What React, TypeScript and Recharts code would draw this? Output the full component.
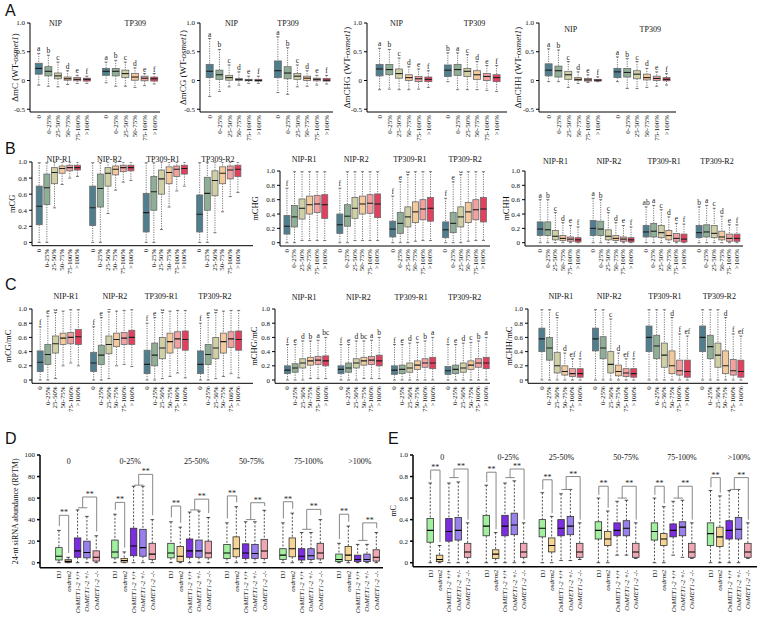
import React from 'react';
import { ComposedChart, Bar, XAxis, YAxis, ReferenceLine, ReferenceDot } from 'recharts';

const SERIF = '"Liberation Serif","Times New Roman",serif';
const SANS = '"Liberation Sans",Arial,sans-serif';

type Stat = [number, number, number, number, number]; // min, q1, median, q3, max

// ---------- categories ----------
const BIN_LABELS = ['0', '0-25%', '25-50%', '50-75%', '75-100%', '>100%'];
const BIN_COLORS = ['#4f7f8e', '#8fae96', '#cfd0a6', '#f4c99c', '#f2a1a1', '#e3405f'];
const GENO_LABELS = ['DJ', 'osdrm2', 'OsMET1-2 +/+', 'OsMET1-2 +/-', 'OsMET1-2 -/-'];
const GENO_COLORS = ['#a3efa0', '#f6d594', '#7c2de0', '#9a80ec', '#f0a7b4'];
const A_GROUPS = ['NIP', 'TP309'];
const BC_GROUPS = ['NIP-R1', 'NIP-R2', 'TP309-R1', 'TP309-R2'];
const DE_GROUPS = ['0', '0-25%', '25-50%', '50-75%', '75-100%', '>100%'];

// ---------- Panel A ----------
const aMC_NIP: Stat[] = [[-0.08, 0.11, 0.21, 0.3, 0.47], [-0.1, 0.08, 0.16, 0.24, 0.44], [-0.11, 0.03, 0.08, 0.13, 0.32], [-0.07, 0.005, 0.03, 0.06, 0.17], [-0.05, -0.005, 0.02, 0.05, 0.09], [-0.05, -0.01, 0.02, 0.04, 0.075]];
const aMC_TP: Stat[] = [[-0.04, 0.09, 0.16, 0.21, 0.32], [-0.1, 0.08, 0.16, 0.21, 0.35], [-0.1, 0.05, 0.12, 0.18, 0.32], [-0.12, 0.005, 0.06, 0.12, 0.22], [-0.09, -0.005, 0.04, 0.075, 0.12], [-0.06, -0.01, 0.03, 0.06, 0.12]];
const aMCG_NIP: Stat[] = [[-0.28, 0.05, 0.16, 0.28, 0.73], [-0.19, 0.02, 0.1, 0.18, 0.54], [-0.11, 0.005, 0.05, 0.09, 0.27], [-0.08, 0, 0.02, 0.03, 0.15], [-0.05, -0.005, 0.005, 0.02, 0.075], [-0.05, -0.01, 0, 0.02, 0.075]];
const aMCG_TP: Stat[] = [[-0.21, 0.05, 0.17, 0.34, 0.76], [-0.24, 0.03, 0.13, 0.24, 0.57], [-0.11, 0.02, 0.075, 0.12, 0.27], [-0.1, 0, 0.04, 0.075, 0.17], [-0.08, -0.005, 0.02, 0.04, 0.09], [-0.06, -0.01, 0.005, 0.035, 0.09]];
const aMCHG_NIP: Stat[] = [[-0.16, 0.08, 0.2, 0.28, 0.56], [-0.15, 0.1, 0.19, 0.28, 0.54], [-0.16, 0.04, 0.12, 0.2, 0.39], [-0.16, 0, 0.05, 0.1, 0.24], [-0.15, -0.02, 0.03, 0.07, 0.2], [-0.12, -0.02, 0.02, 0.06, 0.17]];
const aMCHG_TP: Stat[] = [[-0.02, 0.07, 0.18, 0.27, 0.48], [-0.16, 0.09, 0.19, 0.28, 0.48], [-0.16, 0.07, 0.16, 0.21, 0.45], [-0.16, 0.02, 0.1, 0.17, 0.33], [-0.17, 0, 0.07, 0.12, 0.26], [-0.19, -0.02, 0.05, 0.1, 0.26]];
const aMCHH_NIP: Stat[] = [[-0.02, 0.08, 0.18, 0.29, 0.55], [-0.02, 0.06, 0.17, 0.25, 0.53], [-0.12, 0.02, 0.1, 0.16, 0.33], [-0.05, 0, 0.02, 0.05, 0.15], [-0.035, -0.01, 0.01, 0.035, 0.1], [-0.02, -0.01, 0.005, 0.02, 0.065]];
const aMCHH_TP: Stat[] = [[-0.02, 0.05, 0.15, 0.21, 0.41], [-0.14, 0.06, 0.14, 0.21, 0.38], [-0.14, 0.03, 0.11, 0.17, 0.33], [-0.12, 0.01, 0.05, 0.11, 0.21], [-0.1, 0, 0.035, 0.075, 0.15], [-0.08, -0.005, 0.02, 0.05, 0.12]];
const L_ABCDEF = ['a', 'b', 'c', 'd', 'e', 'f'];
const L_BACDEF = ['b', 'a', 'c', 'd', 'e', 'f'];

// ---------- Panel B ----------
const bCG: Stat[][] = [
  [[0, 0.22, 0.45, 0.7, 0.99], [0, 0.47, 0.68, 0.85, 0.99], [0.43, 0.73, 0.87, 0.93, 1], [0.72, 0.86, 0.92, 0.95, 1], [0.8, 0.89, 0.93, 0.96, 1], [0.82, 0.9, 0.93, 0.96, 1]],
  [[0, 0.21, 0.43, 0.7, 0.99], [0, 0.44, 0.67, 0.85, 0.99], [0.36, 0.7, 0.86, 0.93, 1], [0.65, 0.84, 0.91, 0.95, 1], [0.75, 0.88, 0.93, 0.96, 1], [0.77, 0.89, 0.93, 0.96, 1]],
  [[0, 0.13, 0.37, 0.61, 0.99], [0, 0.4, 0.63, 0.82, 0.99], [0.16, 0.6, 0.79, 0.9, 1], [0.44, 0.73, 0.87, 0.94, 1], [0.64, 0.82, 0.91, 0.95, 1], [0.7, 0.85, 0.92, 0.96, 1]],
  [[0, 0.13, 0.35, 0.59, 0.99], [0, 0.4, 0.61, 0.81, 0.99], [0.12, 0.58, 0.77, 0.89, 1], [0.38, 0.73, 0.86, 0.94, 1], [0.57, 0.79, 0.9, 0.95, 1], [0.62, 0.82, 0.91, 0.96, 1]],
];
const bCG_L = [['f', 'e', 'd', 'b', 'a', 'c'], ['f', 'e', 'd', 'b', 'a', 'c'], ['f', 'e', 'd', 'c', 'ab', 'a'], ['f', 'e', 'd', 'c', 'a', 'ab']];
const bCHG: Stat[][] = [
  [[0, 0.12, 0.23, 0.38, 0.76], [0, 0.22, 0.36, 0.52, 0.99], [0.03, 0.33, 0.48, 0.61, 0.99], [0.03, 0.4, 0.53, 0.65, 0.99], [0.03, 0.42, 0.54, 0.66, 0.99], [0.03, 0.34, 0.53, 0.67, 0.99]],
  [[0, 0.13, 0.25, 0.4, 0.76], [0, 0.23, 0.37, 0.53, 0.99], [0.03, 0.34, 0.48, 0.63, 0.99], [0.03, 0.4, 0.54, 0.65, 0.99], [0.03, 0.41, 0.55, 0.67, 0.99], [0.03, 0.35, 0.54, 0.68, 0.99]],
  [[0, 0.08, 0.19, 0.3, 0.65], [0, 0.13, 0.27, 0.42, 0.85], [0, 0.22, 0.36, 0.5, 0.95], [0.02, 0.28, 0.43, 0.57, 0.99], [0.03, 0.32, 0.47, 0.6, 0.99], [0.03, 0.3, 0.48, 0.63, 0.99]],
  [[0, 0.07, 0.18, 0.29, 0.62], [0, 0.14, 0.27, 0.42, 0.85], [0, 0.22, 0.36, 0.5, 0.95], [0.02, 0.28, 0.43, 0.56, 0.99], [0.03, 0.32, 0.46, 0.6, 0.99], [0.03, 0.29, 0.47, 0.63, 0.99]],
];
const bCHG_L = [['f', 'e', 'd', 'b', 'a', 'c'], ['f', 'e', 'd', 'b', 'a', 'c'], ['f', 'e', 'd', 'c', 'a', 'ab'], ['f', 'e', 'd', 'c', 'a', 'ab']];
const bCHH: Stat[][] = [
  [[0, 0.1, 0.19, 0.29, 0.6], [0, 0.1, 0.18, 0.29, 0.6], [0, 0.04, 0.09, 0.17, 0.42], [0, 0.03, 0.06, 0.1, 0.28], [0, 0.02, 0.05, 0.08, 0.24], [0, 0.01, 0.04, 0.07, 0.22]],
  [[0, 0.1, 0.2, 0.31, 0.62], [0, 0.1, 0.19, 0.3, 0.6], [0, 0.04, 0.09, 0.18, 0.42], [0, 0.03, 0.06, 0.1, 0.28], [0, 0.02, 0.05, 0.08, 0.24], [0, 0.01, 0.04, 0.07, 0.22]],
  [[0, 0.08, 0.15, 0.24, 0.5], [0, 0.08, 0.16, 0.27, 0.52], [0, 0.07, 0.14, 0.24, 0.46], [0, 0.04, 0.1, 0.17, 0.36], [0, 0.02, 0.06, 0.13, 0.27], [0, 0.01, 0.05, 0.12, 0.26]],
  [[0, 0.07, 0.14, 0.24, 0.5], [0, 0.08, 0.15, 0.25, 0.52], [0, 0.07, 0.13, 0.24, 0.48], [0, 0.04, 0.08, 0.16, 0.37], [0, 0.02, 0.06, 0.12, 0.25], [0, 0.02, 0.06, 0.12, 0.25]],
];
const bCHH_L = [L_ABCDEF, L_ABCDEF, ['ab', 'a', 'c', 'd', 'e', 'f'], L_BACDEF];

// ---------- Panel C ----------
const cCG: Stat[][] = [
  [[0, 0.12, 0.25, 0.41, 0.75], [0, 0.22, 0.36, 0.5, 0.9], [0.02, 0.38, 0.51, 0.62, 0.95], [0.2, 0.5, 0.59, 0.66, 0.97], [0.24, 0.51, 0.6, 0.67, 0.99], [0.2, 0.5, 0.61, 0.71, 0.99]],
  [[0, 0.12, 0.24, 0.39, 0.75], [0, 0.22, 0.35, 0.49, 0.88], [0.02, 0.37, 0.5, 0.62, 0.96], [0.2, 0.47, 0.57, 0.66, 0.97], [0.22, 0.5, 0.59, 0.67, 0.98], [0.19, 0.5, 0.6, 0.7, 0.99]],
  [[0, 0.09, 0.22, 0.42, 0.8], [0, 0.2, 0.35, 0.52, 0.88], [0.02, 0.3, 0.45, 0.6, 0.95], [0.05, 0.38, 0.54, 0.66, 0.97], [0.1, 0.45, 0.58, 0.68, 0.98], [0.03, 0.42, 0.57, 0.69, 0.98]],
  [[0, 0.09, 0.22, 0.41, 0.8], [0, 0.22, 0.36, 0.5, 0.88], [0.02, 0.3, 0.45, 0.6, 0.95], [0.05, 0.38, 0.54, 0.66, 0.97], [0.09, 0.46, 0.58, 0.68, 0.98], [0.03, 0.42, 0.57, 0.69, 0.98]],
];
const cCG_L = [['f', 'e', 'd', 'c', 'b', 'a'], ['f', 'e', 'd', 'c', 'ab', 'a'], ['f', 'e', 'd', 'c', 'a', 'b'], ['f', 'e', 'd', 'c', 'a', 'b']];
const cCHG: Stat[][] = [
  [[0, 0.09, 0.14, 0.2, 0.5], [0, 0.11, 0.17, 0.23, 0.5], [0, 0.17, 0.24, 0.3, 0.55], [0.02, 0.21, 0.27, 0.32, 0.55], [0.02, 0.22, 0.28, 0.33, 0.56], [0.02, 0.2, 0.27, 0.34, 0.6]],
  [[0, 0.09, 0.15, 0.2, 0.5], [0, 0.11, 0.17, 0.24, 0.5], [0, 0.17, 0.24, 0.3, 0.55], [0.02, 0.21, 0.27, 0.32, 0.55], [0.02, 0.22, 0.28, 0.33, 0.56], [0.02, 0.2, 0.27, 0.35, 0.6]],
  [[0, 0.08, 0.14, 0.2, 0.5], [0, 0.09, 0.15, 0.21, 0.5], [0, 0.11, 0.17, 0.24, 0.52], [0, 0.15, 0.21, 0.27, 0.53], [0, 0.18, 0.24, 0.3, 0.55], [0, 0.16, 0.24, 0.32, 0.6]],
  [[0, 0.08, 0.13, 0.19, 0.5], [0, 0.09, 0.15, 0.21, 0.5], [0, 0.11, 0.17, 0.24, 0.52], [0, 0.15, 0.21, 0.27, 0.53], [0, 0.18, 0.24, 0.3, 0.55], [0, 0.16, 0.24, 0.32, 0.6]],
];
const cCHG_L = [['f', 'e', 'd', 'b', 'a', 'bc'], ['f', 'e', 'd', 'bc', 'a', 'b'], ['f', 'e', 'd', 'c', 'b', 'a'], ['f', 'e', 'd', 'c', 'b', 'a']];
const cCHH: Stat[][] = [
  [[0, 0.4, 0.58, 0.73, 0.99], [0, 0.28, 0.45, 0.6, 0.99], [0, 0.1, 0.2, 0.39, 0.88], [0, 0.07, 0.12, 0.2, 0.38], [0, 0.05, 0.09, 0.16, 0.3], [0, 0.04, 0.09, 0.16, 0.3]],
  [[0, 0.41, 0.58, 0.73, 0.99], [0, 0.3, 0.45, 0.61, 0.99], [0, 0.1, 0.22, 0.4, 0.86], [0, 0.06, 0.12, 0.21, 0.38], [0, 0.05, 0.1, 0.16, 0.3], [0, 0.04, 0.09, 0.16, 0.3]],
  [[0, 0.4, 0.6, 0.76, 0.99], [0, 0.3, 0.48, 0.63, 0.99], [0, 0.18, 0.35, 0.52, 0.99], [0, 0.09, 0.2, 0.41, 0.88], [0, 0.07, 0.13, 0.28, 0.65], [0, 0.04, 0.12, 0.28, 0.62]],
  [[0, 0.4, 0.6, 0.76, 0.99], [0, 0.3, 0.47, 0.63, 0.99], [0, 0.18, 0.35, 0.52, 0.99], [0, 0.09, 0.2, 0.41, 0.88], [0, 0.07, 0.13, 0.29, 0.65], [0, 0.04, 0.12, 0.28, 0.62]],
];
const cCHH_L = [['a', 'b', 'c', 'd', 'ef', 'f'], ['a', 'b', 'c', 'd', 'ef', 'f'], ['a', 'b', 'c', 'd', 'f', 'ef'], ['a', 'b', 'c', 'd', 'f', 'ef']];

// ---------- Panel D (24-nt siRNA, RPTM) ----------
const dSiRNA: Stat[][] = [
  [[0, 2.5, 6, 14, 30], [0, 0.3, 1.2, 2.8, 5], [0, 5, 11, 23, 49], [0, 4.5, 9.5, 20, 43], [0, 1.5, 5, 11, 25]],
  [[0, 4.5, 10, 21, 45], [0, 0.5, 2, 4, 10], [0, 6.5, 15.5, 32, 71], [0, 6, 14, 31, 71], [0, 3, 8, 18, 40]],
  [[0, 4.5, 9, 18, 38], [0, 1, 6, 15, 33], [0, 5, 11, 22, 47], [0, 5, 11, 21, 48], [0, 4.5, 9, 20, 42]],
  [[0, 4, 9, 17, 37], [0, 5.5, 13, 24, 52], [0, 4, 9, 17.5, 38], [0, 4, 8.5, 17, 38], [0, 4, 10.8, 21.7, 48.6]],
  [[0, 3, 7, 13, 37], [0, 5.5, 13, 23, 46], [0, 2.5, 6, 13, 28], [0, 3, 6.5, 13, 28], [0, 3.5, 9, 18, 40]],
  [[0, 1, 3, 8, 18], [0, 2, 7, 15, 34], [0, 1, 3, 7, 17], [0, 1, 3, 8, 17], [0, 1.5, 5, 12, 28]],
];
const dBracketPair = [44, 56, 52.6, 62, 56.6, 45];
const dBracketJoin = [51, 72, 49, 40, 31, 20.7];
const dBracketTop = [61, 82, 59, 55.7, 49.5, 37];

// ---------- Panel E (mC) ----------
const eMC: Stat[][] = [
  [[0, 0.19, 0.3, 0.41, 0.74], [0, 0.01, 0.03, 0.07, 0.16], [0, 0.2, 0.29, 0.41, 0.74], [0, 0.21, 0.3, 0.42, 0.75], [0, 0.05, 0.1, 0.18, 0.37]],
  [[0, 0.25, 0.34, 0.44, 0.72], [0, 0.04, 0.08, 0.12, 0.28], [0, 0.25, 0.34, 0.44, 0.74], [0, 0.26, 0.35, 0.46, 0.76], [0, 0.05, 0.1, 0.18, 0.37]],
  [[0, 0.24, 0.32, 0.4, 0.65], [0, 0.1, 0.16, 0.23, 0.43], [0.02, 0.25, 0.32, 0.4, 0.64], [0.02, 0.26, 0.34, 0.43, 0.68], [0.03, 0.05, 0.1, 0.18, 0.37]],
  [[0, 0.22, 0.3, 0.38, 0.6], [0, 0.16, 0.22, 0.29, 0.48], [0.07, 0.25, 0.3, 0.37, 0.57], [0.07, 0.25, 0.32, 0.39, 0.58], [0.04, 0.05, 0.1, 0.18, 0.37]],
  [[0, 0.21, 0.29, 0.37, 0.6], [0, 0.16, 0.22, 0.27, 0.52], [0.07, 0.24, 0.3, 0.36, 0.57], [0.05, 0.25, 0.33, 0.38, 0.58], [0.04, 0.05, 0.1, 0.18, 0.37]],
  [[0, 0.16, 0.27, 0.37, 0.67], [0, 0.15, 0.24, 0.33, 0.62], [0, 0.22, 0.3, 0.39, 0.67], [0, 0.22, 0.31, 0.42, 0.68], [0.04, 0.05, 0.1, 0.18, 0.37]],
];
const eBracketPair = [0.86, 0.84, 0.77, 0.71, 0.71, 0.79];
const eBracketJoin = [0.79, 0.79, 0.68, 0.6, 0.6, 0.68];
const eBracketTop = [0.87, 0.87, 0.8, 0.71, 0.71, 0.79];

// ---------- helpers ----------
type Row = { x: number; lo: number; q1: number; med: number; q3: number; hi: number; color: string; letter: string; label: string; kind: string };

function binRows(groups: Stat[][], letters: string[][]): Row[] {
  const rows: Row[] = [];
  groups.forEach((g, gi) =>
    g.forEach((s, i) =>
      rows.push({ x: gi * 7 + i, lo: s[0], q1: s[1], med: s[2], q3: s[3], hi: s[4], color: BIN_COLORS[i], letter: letters[gi][i], label: BIN_LABELS[i], kind: 'bin' })
    )
  );
  return rows;
}
function genoRows(groups: Stat[][]): Row[] {
  const rows: Row[] = [];
  groups.forEach((g, gi) =>
    g.forEach((s, i) =>
      rows.push({ x: gi * 6 + i, lo: s[0], q1: s[1], med: s[2], q3: s[3], hi: s[4], color: GENO_COLORS[i], letter: '', label: GENO_LABELS[i], kind: 'geno' })
    )
  );
  return rows;
}
type Seg = { a: [number, number]; b: [number, number]; star?: boolean };
function bracketSegs(groups: Stat[][], pair: number[], join: number[], topH: number[], gap: number): Seg[] {
  const segs: Seg[] = [];
  groups.forEach((g, gi) => {
    const s = gi * 6;
    segs.push({ a: [s, pair[gi]], b: [s + 1, pair[gi]], star: true });
    segs.push({ a: [s, pair[gi]], b: [s, g[0][4] + gap] });
    segs.push({ a: [s + 1, pair[gi]], b: [s + 1, g[1][4] + gap] });
    segs.push({ a: [s + 2, join[gi]], b: [s + 3, join[gi]] });
    segs.push({ a: [s + 2.5, join[gi]], b: [s + 2.5, topH[gi]] });
    segs.push({ a: [s + 2.5, topH[gi]], b: [s + 4, topH[gi]], star: true });
    segs.push({ a: [s + 4, topH[gi]], b: [s + 4, g[4][4] + gap] });
  });
  return segs;
}

function BoxShape(props: any) {
  const { x, y, width, height, payload } = props;
  if (!payload || x == null || y == null || !isFinite(y)) return null;
  const top = Math.min(y, y + height);
  const bot = Math.max(y, y + height);
  const span = payload.hi - payload.lo;
  const py = (v: number) => (span === 0 ? top : top + ((bot - top) * (payload.hi - v)) / span);
  const cx = x + width / 2;
  const geno = payload.kind === 'geno';
  const yMax = py(payload.hi), yQ3 = py(payload.q3), yMed = py(payload.med), yQ1 = py(payload.q1), yMin = py(payload.lo);
  const capW = geno ? 1.8 : 1.5;
  const ws = geno ? '#222' : '#555';
  const dash = geno ? '2 1.6' : '1.2 1.2';
  return (
    <g>
      <line x1={cx} x2={cx} y1={yMax} y2={yQ3} stroke={ws} strokeWidth={0.8} strokeDasharray={dash} />
      <line x1={cx} x2={cx} y1={yQ1} y2={yMin} stroke={ws} strokeWidth={0.8} strokeDasharray={dash} />
      <line x1={cx - capW} x2={cx + capW} y1={yMax} y2={yMax} stroke={ws} strokeWidth={0.8} />
      <line x1={cx - capW} x2={cx + capW} y1={yMin} y2={yMin} stroke={ws} strokeWidth={0.8} />
      <rect x={x} y={yQ3} width={width} height={Math.max(0.6, yQ1 - yQ3)} fill={payload.color} stroke={geno ? '#333' : '#6a6a6a'} strokeWidth={0.8} />
      <line x1={x} x2={x + width} y1={yMed} y2={yMed} stroke={geno ? '#000' : '#1d1d1d'} strokeWidth={1.1} />
      {payload.letter ? (
        <text x={cx} y={yMax - 2} textAnchor="middle" fontSize={7.5} fontFamily={SERIF} fill="#222">
          {payload.letter}
        </text>
      ) : null}
    </g>
  );
}

function labelContent(label: string) {
  if (label === 'DJ') return <tspan>DJ</tspan>;
  if (label.startsWith('OsMET1-2')) {
    return (
      <>
        <tspan fontStyle="italic">OsMET1-2</tspan>
        <tspan>{label.slice(8)}</tspan>
      </>
    );
  }
  if (label === 'osdrm2') return <tspan fontStyle="italic">osdrm2</tspan>;
  return <tspan>{label}</tspan>;
}

type PanelSpec = {
  rows: Row[];
  plot: [number, number, number, number];
  xDomain: [number, number];
  yDomain: [number, number];
  yTicks: number[];
  yFmt: (v: number) => string;
  yLabel: React.ReactNode;
  yLabelX: number;
  yLabelSize: number;
  titles: string[];
  titleX: number[];
  titleY: number;
  barSize: number;
  axisW: number;
  tickFont: number;
  segs?: Seg[];
};

function Panel(p: PanelSpec) {
  const YW = 45, MT = 25, MR = 6, XH = 70;
  const [pl, pr, pt, pb] = p.plot;
  const left = pl - YW;
  const top = pt - MT;
  const width = pr - pl + YW + MR;
  const height = pb - pt + MT + XH;
  const lx = p.yLabelX - left;
  const ly = (pt + pb) / 2 - top;
  const titleDy = p.titleY - pt;
  const labelMap = new Map<number, string>();
  p.rows.forEach((r) => labelMap.set(r.x, r.label));

  const BottomTick = (tp: any) => {
    const lab = labelMap.get(tp.payload.value) ?? '';
    const tx = tp.x;
    const tyy = tp.y + 1;
    return (
      <text x={tx} y={tyy} transform={`rotate(-90 ${tx} ${tyy})`} textAnchor="end" dominantBaseline="central" fontSize={p.tickFont} fontFamily={SERIF} fill="#111">
        {labelContent(lab)}
      </text>
    );
  };
  const YLabel = () => (
    <text x={lx} y={ly} transform={`rotate(-90 ${lx} ${ly})`} textAnchor="middle" dominantBaseline="central" fontSize={p.yLabelSize} fontFamily={SERIF} fill="#111">
      {p.yLabel}
    </text>
  );

  return (
    <div style={{ position: 'absolute', left, top, width, height }}>
      <ComposedChart width={width} height={height} data={p.rows} margin={{ top: MT, right: MR, bottom: 0, left: 0 }}>
        <XAxis
          dataKey="x"
          type="number"
          domain={p.xDomain}
          ticks={p.rows.map((r) => r.x)}
          interval={0}
          allowDataOverflow
          tickLine={false}
          tickSize={0}
          tickMargin={2}
          axisLine={{ stroke: '#000', strokeWidth: p.axisW }}
          height={XH}
          tick={BottomTick}
        />
        <YAxis
          type="number"
          domain={p.yDomain}
          ticks={p.yTicks}
          interval={0}
          allowDataOverflow
          width={YW}
          tickSize={3}
          tickLine={{ stroke: '#000', strokeWidth: p.axisW }}
          axisLine={{ stroke: '#000', strokeWidth: p.axisW }}
          tick={{ fontSize: 7, fontFamily: SERIF, fill: '#111' }}
          tickFormatter={p.yFmt}
          label={YLabel}
        />
        <Bar dataKey={(d: Row) => [d.lo, d.hi]} barSize={p.barSize} isAnimationActive={false} shape={(sp: any) => <BoxShape {...sp} />} />
        {(p.segs ?? []).map((s, i) => (
          <ReferenceLine
            key={i}
            segment={[{ x: s.a[0], y: s.a[1] }, { x: s.b[0], y: s.b[1] }]}
            stroke="#7a7a7a"
            strokeWidth={0.9}
            label={s.star ? { value: '**', position: 'top', fontSize: 8, fill: '#222', offset: 0, fontFamily: SERIF } : undefined}
          />
        ))}
        {p.titleX.map((tx, i) => (
          <ReferenceDot
            key={'t' + i}
            x={tx}
            y={p.yDomain[1]}
            r={0}
            fill="none"
            stroke="none"
            label={(lp: any) => {
              const vb = lp.viewBox || {};
              const cx = (vb.x ?? 0) + (vb.width ?? 0) / 2;
              const cy = (vb.y ?? 0) + (vb.height ?? 0) / 2;
              return (
                <text x={cx} y={cy + titleDy} textAnchor="middle" fontSize={8} fontFamily={SERIF} fill="#111">
                  {p.titles[i]}
                </text>
              );
            }}
          />
        ))}
      </ComposedChart>
    </div>
  );
}

const fmt1 = (v: number) => (v === 0 ? '0' : v.toFixed(1));
const fmtInt = (v: number) => String(v);
const TICKS_A = [-0.5, 0, 0.5, 1];
const TICKS_01 = [0, 0.2, 0.4, 0.6, 0.8, 1];
const TICKS_D = [0, 20, 40, 60, 80, 100];

const deltaLabel = (ctx: string) => (
  <>
    <tspan>{`ΔmC${ctx} (WT-`}</tspan>
    <tspan fontStyle="italic">osmet1</tspan>
    <tspan>)</tspan>
  </>
);

export default function App() {
  const aPanels: PanelSpec[] = [
    { rows: binRows([aMC_NIP, aMC_TP], [L_ABCDEF, L_ABCDEF]), plot: [30, 160, 23, 112], xDomain: [-0.94, 12.57], yLabelX: 15, yLabel: deltaLabel(''), titleX: [1.7, 10], titleY: 26 } as any,
    { rows: binRows([aMCG_NIP, aMCG_TP], [L_ABCDEF, L_ABCDEF]), plot: [200, 333, 23, 112], xDomain: [-1.03, 12.62], yLabelX: 183, yLabel: deltaLabel('G'), titleX: [2.2, 8], titleY: 26 } as any,
    { rows: binRows([aMCHG_NIP, aMCHG_TP], [L_ABCDEF, L_BACDEF]), plot: [367, 507, 23, 112], xDomain: [-1.33, 13.03], yLabelX: 347, yLabel: deltaLabel('HG'), titleX: [1.7, 9.7], titleY: 26 } as any,
    { rows: binRows([aMCHH_NIP, aMCHH_TP], [L_ABCDEF, L_ABCDEF]), plot: [539, 676, 23, 112], xDomain: [-1.02, 12.92], yLabelX: 518, yLabel: deltaLabel('HH'), titleX: [2.2, 10.3], titleY: 32 } as any,
  ].map((q: any) => ({ ...q, yDomain: [-0.548, 1], yTicks: TICKS_A, yFmt: fmt1, titles: A_GROUPS, barSize: 7, axisW: 1, tickFont: 7, yLabelSize: 9 }));

  const bcCommon = { yTicks: TICKS_01, yFmt: fmt1, titles: BC_GROUPS, barSize: 6, axisW: 1, tickFont: 7, yLabelSize: 8.5 };
  const bPanels: PanelSpec[] = [
    { ...bcCommon, rows: binRows(bCG, bCG_L), plot: [32, 253, 162.3, 246], xDomain: [-0.92, 28], yDomain: [-0.041, 1], yLabelX: 12, yLabel: 'mCG', titleX: [2.6, 9.2, 16.2, 23.4], titleY: 162 },
    { ...bcCommon, rows: binRows(bCHG, bCHG_L), plot: [280, 490, 171.3, 246.3], xDomain: [-0.89, 26.9], yDomain: [-0.046, 1], yLabelX: 255, yLabel: 'mCHG', titleX: [2.3, 9.2, 16.3, 23.6], titleY: 162.5 },
    { ...bcCommon, rows: binRows(bCHH, bCHH_L), plot: [525, 743, 171.3, 246.3], xDomain: [-1.98, 26.83], yDomain: [-0.046, 1], yLabelX: 506, yLabel: 'mCHH', titleX: [2.05, 9.1, 16.4, 23.4], titleY: 164 },
  ];
  const cPanels: PanelSpec[] = [
    { ...bcCommon, rows: binRows(cCG, cCG_L), plot: [32, 253, 309, 383.3], xDomain: [-1.05, 27.9], yDomain: [-0.046, 1], yLabelX: 8, yLabel: 'mCG/mC', titleX: [3.4, 9.8, 15.9, 22.9], titleY: 299.5 },
    { ...bcCommon, rows: binRows(cCHG, cCHG_L), plot: [275, 490, 309, 383.3], xDomain: [-1.61, 26.52], yDomain: [-0.046, 1], yLabelX: 254, yLabel: 'mCHG/mC', titleX: [2.2, 9.3, 16.2, 23.2], titleY: 300.5 },
    { ...bcCommon, rows: binRows(cCHH, cCHH_L), plot: [528, 748, 309, 383.3], xDomain: [-1.79, 26.95], yDomain: [-0.046, 1], yLabelX: 509, yLabel: 'mCHH/mC', titleX: [2.5, 8.8, 16.1, 23.2], titleY: 299.5 },
  ];
  const dPanel: PanelSpec = {
    rows: genoRows(dSiRNA), plot: [40, 383, 455.3, 568], xDomain: [-2.07, 34.67], yDomain: [-4.64, 100], yTicks: TICKS_D, yFmt: fmtInt,
    yLabel: '24-nt siRNA abundance (RPTM)', yLabelX: 15, yLabelSize: 8, titles: DE_GROUPS, titleX: [1, 7.6, 14.7, 20.6, 26.7, 32.2], titleY: 464.5,
    barSize: 6.5, axisW: 1.5, tickFont: 7, segs: bracketSegs(dSiRNA, dBracketPair, dBracketJoin, dBracketTop, 4),
  };
  const ePanel: PanelSpec = {
    rows: genoRows(eMC), plot: [413, 757, 455.3, 567], xDomain: [-1.89, 34.93], yDomain: [-0.037, 1], yTicks: TICKS_01, yFmt: fmt1,
    yLabel: 'mC', yLabelX: 393, yLabelSize: 8, titles: DE_GROUPS, titleX: [1.24, 8.3, 14, 20.9, 26.9, 33], titleY: 460.5,
    barSize: 6.5, axisW: 1.5, tickFont: 7, segs: bracketSegs(eMC, eBracketPair, eBracketJoin, eBracketTop, 0.03),
  };

  const letters = [
    { t: 'A', x: 5, y: 17 },
    { t: 'B', x: 5, y: 155 },
    { t: 'C', x: 5, y: 291 },
    { t: 'D', x: 5, y: 445 },
    { t: 'E', x: 388, y: 445 },
  ];

  return (
    <div style={{ position: 'fixed', left: 0, top: 0, width: 757, height: 619, background: '#fff', overflow: 'hidden' }}>
      {[...aPanels, ...bPanels, ...cPanels, dPanel, ePanel].map((p, i) => (
        <Panel key={i} {...p} />
      ))}
      {letters.map((l) => (
        <div key={l.t} style={{ position: 'absolute', left: l.x, top: l.y - 14, fontFamily: SANS, fontSize: 16, lineHeight: '16px', color: '#111' }}>
          {l.t}
        </div>
      ))}
    </div>
  );
}
